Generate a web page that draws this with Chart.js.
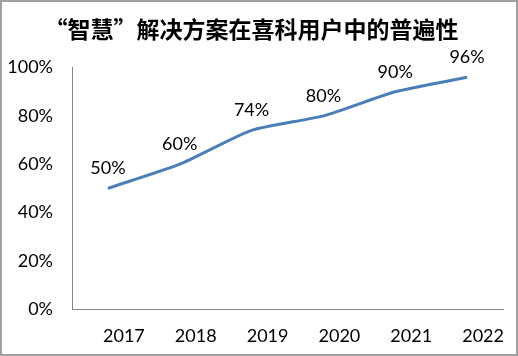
<!DOCTYPE html>
<html><head><meta charset="utf-8">
<script src="https://cdn.jsdelivr.net/npm/chart.js@4"></script>
<style>html,body{margin:0;padding:0;background:#fff}#wrap{width:518px;height:356px}</style>
</head><body><div id="wrap"><canvas id="c" width="518" height="356"></canvas></div>
<script>
const titleText = '“智慧”解决方案在喜科用户中的普遍性';
const categories = ['2017','2018','2019','2020','2021','2022'];
const adoption = [50, 60, 74, 80, 90, 96];
const yTicks = [0, 20, 40, 60, 80, 100];

const font = 'Lato, "Open Sans", "Noto Sans", sans-serif';

const borderPlugin = {
  id: 'border',
  beforeDraw(chart) {
    const ctx = chart.ctx;
    ctx.save();
    ctx.fillStyle = '#fff';
    ctx.fillRect(0, 0, chart.width, chart.height);
    ctx.strokeStyle = '#a0a0a0';
    ctx.lineWidth = 2;
    ctx.strokeRect(1, 1, chart.width - 2, chart.height - 2);
    ctx.restore();
  }
};

const labelPlugin = {
  id: 'dlabels',
  afterDatasetsDraw(chart) {
    const ctx = chart.ctx;
    const meta = chart.getDatasetMeta(0);
    ctx.save();
    ctx.font = '18px ' + font;
    ctx.fillStyle = '#000';
    ctx.textAlign = 'center';
    ctx.textBaseline = 'middle';
    meta.data.forEach((pt, i) => {
      ctx.fillText(adoption[i] + '%', pt.x, pt.y - 20);
    });
    ctx.restore();
  }
};

new Chart(document.getElementById('c'), {
  type: 'line',
  data: {
    labels: categories,
    datasets: [{
      data: adoption,
      borderColor: '#4a7ebb',
      borderWidth: 3,
      pointRadius: 0,
      tension: 0.2,
      fill: false
    }]
  },
  options: {
    responsive: false,
    animation: false,
    layout: { padding: { left: 0, right: 15, top: 0, bottom: 4 } },
    plugins: {
      legend: { display: false },
      tooltip: { enabled: false },
      title: {
        display: true,
        text: titleText,
        color: '#000',
        font: { family: '"Noto Sans CJK SC", sans-serif', size: 23, weight: 'bold' },
        padding: { top: 15, bottom: 25 }
      }
    },
    scales: {
      x: {
        offset: true,
        grid: { display: false, drawTicks: false },
        border: { display: true, color: '#868686', width: 1 },
        ticks: { color: '#000', font: { family: font, size: 18 }, padding: 16, labelOffset: 16, maxRotation: 0 },
        afterFit(s) { s.height = 43; }
      },
      y: {
        min: 0, max: 100,
        grid: { display: false, drawTicks: false },
        border: { display: true, color: '#868686', width: 1 },
        afterBuildTicks(s) { s.ticks = yTicks.map(v => ({ value: v })); },
        ticks: { color: '#000', font: { family: font, size: 18 }, padding: 19, callback: v => v + '%' },
        afterFit(s) { s.width = 72; }
      }
    }
  },
  plugins: [borderPlugin, labelPlugin]
});
</script></body></html>
